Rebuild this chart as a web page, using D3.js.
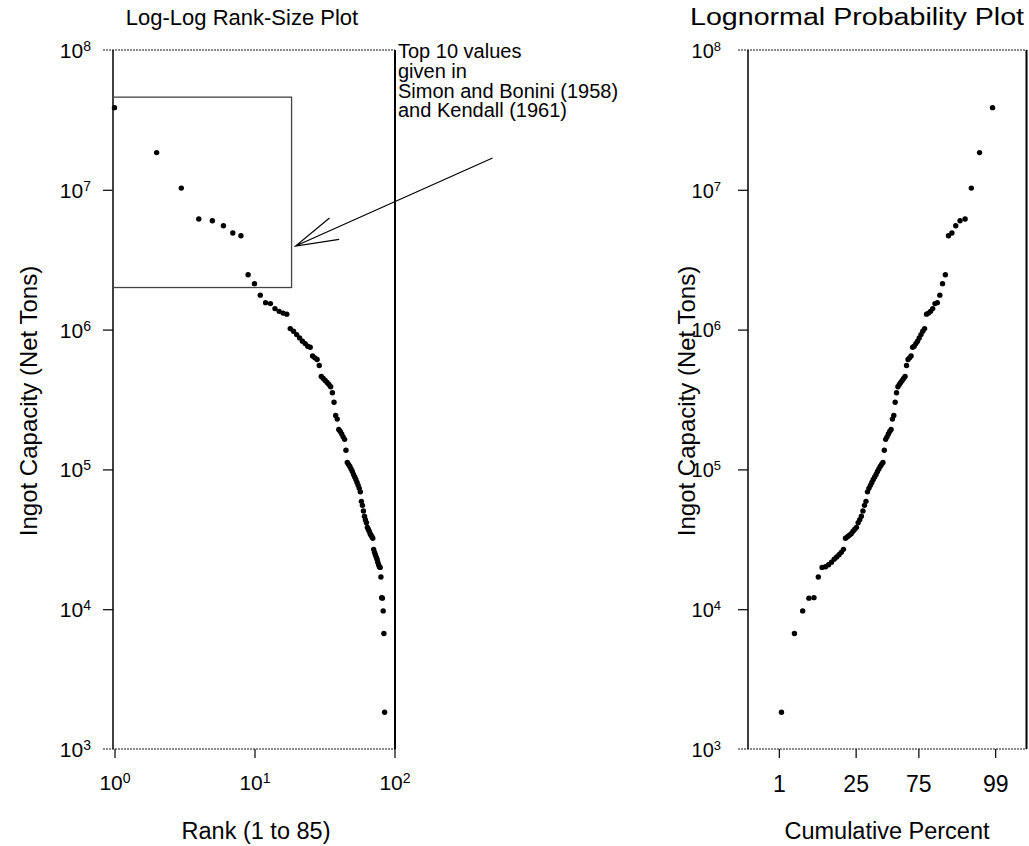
<!DOCTYPE html>
<html>
<head>
  <meta charset="UTF-8">
  <title>Ingot Capacity Plots</title>
  <style>
    body {
      margin: 0;
      background: #fff;
      font-family: "Liberation Sans", Arial, sans-serif;
    }
    text { fill: #000; }
    .frame { stroke: #000; stroke-width: 1.5px; }
    .edge { stroke: #666; stroke-width: 1.5px; stroke-dasharray: 2,1; }
    .tick line { stroke: #000; stroke-width: 1.2px; }
  </style>
</head>
<body>

<svg id="chart"></svg>

<script src="https://d3js.org/d3.v7.min.js"></script>
<script>
const width = 1029;
const height = 846;

// ingot capacity (net tons) of 85 firms, largest first
const capacity = [
  38700000, 18460000, 10280000, 6175000, 6005000, 5533000, 4907000, 4693000, 2471000, 2131000,
  1764000, 1559000, 1534000, 1413000, 1351000, 1312000, 1290000, 1017000, 972000, 921000,
  872000, 825000, 794000, 760000, 747000, 647000, 628000, 611000, 553000, 462000,
  447000, 432000, 418000, 405000, 390000, 353000, 302000, 243000, 229000, 193000,
  187000, 179000, 171000, 164000, 137000, 112000, 108600, 105000, 100800, 96700,
  92100, 88400, 84800, 80700, 76900, 73200, 69100, 59100, 55300, 50500,
  46200, 43600, 41500, 38500, 37300, 36100, 34700, 33800, 33000, 32200,
  26800, 25500, 24500, 23600, 22800, 21700, 20800, 20100, 19900, 17000,
  12100, 12000, 9720, 6700, 1830
];

const yTicks = [1e3, 1e4, 1e5, 1e6, 1e7, 1e8];
const rankTicks = [1, 10, 100];
const percentTicks = [1, 25, 75, 99];

// highlighted top 10 in data units (rank, capacity)
const boxRank = [1, 18.4];
const boxCap = [2.0e6, 4.6e7];
const noteLines = ["Top 10 values", "given in", "Simon and Bonini (1958)", "and Kendall (1961)"];

const n = capacity.length;

// inverse normal cdf (Acklam)
function qnorm(p) {
  const a = [-39.6968302866538, 220.946098424521, -275.928510446969, 138.357751867269, -30.6647980661472, 2.50662827745924];
  const b = [-54.4760987982241, 161.585836858041, -155.698979859887, 66.8013118877197, -13.2806815528857];
  const c = [-0.00778489400243029, -0.322396458041136, -2.40075827716184, -2.54973253934373, 4.37466414146497, 2.93816398269878];
  const d = [0.00778469570904146, 0.32246712907004, 2.445134137143, 3.75440866190742];
  const pl = 0.02425;
  let q, r;
  if (p < pl) {
    q = Math.sqrt(-2 * Math.log(p));
    return (((((c[0]*q+c[1])*q+c[2])*q+c[3])*q+c[4])*q+c[5]) / ((((d[0]*q+d[1])*q+d[2])*q+d[3])*q+1);
  }
  if (p > 1 - pl) {
    q = Math.sqrt(-2 * Math.log(1 - p));
    return -(((((c[0]*q+c[1])*q+c[2])*q+c[3])*q+c[4])*q+c[5]) / ((((d[0]*q+d[1])*q+d[2])*q+d[3])*q+1);
  }
  q = p - 0.5;
  r = q * q;
  return (((((a[0]*r+a[1])*r+a[2])*r+a[3])*r+a[4])*r+a[5])*q / (((((b[0]*r+b[1])*r+b[2])*r+b[3])*r+b[4])*r+1);
}

const points = capacity.map((v, i) => ({
  rank: i + 1,
  value: v,
  z: qnorm((n - i) / (n + 1))
}));

const svg = d3.select("#chart")
  .attr("width", width)
  .attr("height", height);

const plotTop = 50, plotBottom = 749;

const y = d3.scaleLog().domain([1e3, 1e8]).range([plotBottom, plotTop]);
const xL = d3.scaleLog().domain([1, 100]).range([114.5, 394.5]);
const xR = d3.scaleLinear().domain([-3, 3]).range([747.5, 1026.5]);

function pow10(sel, supSize) {
  sel.text("")
    .append("tspan").text("10");
  sel.append("tspan")
    .attr("dy", "-7")
    .style("font-size", supSize + "px")
    .text(d => Math.round(Math.log10(d)));
}

function yAxis(left, size, pad) {
  const g = svg.append("g").attr("transform", `translate(${left},0)`);
  g.call(d3.axisLeft(y).tickValues(yTicks).tickSize(10).tickPadding(pad).tickFormat(""));
  g.select(".domain").remove();
  g.selectAll(".tick text")
    .style("font-size", size + "px")
    .attr("dy", "0.36em")
    .call(pow10, Math.round(size * 0.65));
  g.selectAll(".tick").filter(d => d === 1e3 || d === 1e8).select("line").remove();
}

function frame(x0, x1) {
  svg.append("line").attr("class", "edge")
    .attr("x1", x0 - 10).attr("x2", x1).attr("y1", plotTop).attr("y2", plotTop);
  svg.append("line").attr("class", "edge")
    .attr("x1", x0 - 10).attr("x2", x1).attr("y1", plotBottom).attr("y2", plotBottom);
  svg.append("line").attr("class", "frame")
    .attr("x1", x0).attr("x2", x0).attr("y1", plotTop).attr("y2", plotBottom);
  svg.append("line").attr("class", "frame")
    .style("stroke-width", "2px")
    .attr("x1", x1).attr("x2", x1).attr("y1", plotTop).attr("y2", plotBottom);
}

// ---- left panel: rank-size
frame(113, 395);
yAxis(113, 21, 12);

const gxL = svg.append("g").attr("transform", `translate(0,${plotBottom})`);
gxL.call(d3.axisBottom(xL).tickValues(rankTicks).tickSize(9).tickPadding(17).tickFormat(""));
gxL.select(".domain").remove();
gxL.selectAll(".tick text")
  .style("font-size", "21px")
  .attr("dy", "0.71em")
  .call(pow10, 14);

// highlight box
svg.append("rect")
  .attr("x", xL(boxRank[0]) - 1.5)
  .attr("y", y(boxCap[1]))
  .attr("width", xL(boxRank[1]) - xL(boxRank[0]) + 1.5)
  .attr("height", y(boxCap[0]) - y(boxCap[1]))
  .attr("fill", "none")
  .attr("stroke", "#444")
  .attr("stroke-width", 1.3);

// arrow from the note to the box
const tip = [xL(boxRank[1]) + 4, 246];
const tail = [tip[0] + 197, tip[1] - 88];
const ang = Math.atan2(tail[1] - tip[1], tail[0] - tip[0]);
const headLen = 44, spread = 15.5 * Math.PI / 180;
svg.append("path")
  .attr("d", `M${tail[0]},${tail[1]}L${tip[0]},${tip[1]}` +
    `M${tip[0] + headLen * Math.cos(ang - spread)},${tip[1] + headLen * Math.sin(ang - spread)}L${tip[0]},${tip[1]}` +
    `L${tip[0] + headLen * Math.cos(ang + spread)},${tip[1] + headLen * Math.sin(ang + spread)}`)
  .attr("fill", "none")
  .attr("stroke", "#000")
  .attr("stroke-width", 1.2);

svg.append("g")
  .selectAll("text")
  .data(noteLines)
  .join("text")
  .attr("x", 398)
  .attr("y", (d, i) => 58 + i * 19.8)
  .style("font-size", "20px")
  .text(d => d);

svg.append("g")
  .selectAll("circle")
  .data(points)
  .join("circle")
  .attr("cx", d => xL(d.rank))
  .attr("cy", d => y(d.value))
  .attr("r", 2.7)
  .attr("fill", "#000");

svg.append("text")
  .attr("x", 242).attr("y", 25)
  .attr("text-anchor", "middle")
  .style("font-size", "22px")
  .text("Log-Log Rank-Size Plot");

svg.append("text")
  .attr("x", 256).attr("y", 839)
  .attr("text-anchor", "middle")
  .style("font-size", "23.5px")
  .text("Rank (1 to 85)");

svg.append("text")
  .attr("transform", "translate(37,401) rotate(-90)")
  .attr("text-anchor", "middle")
  .style("font-size", "24px")
  .text("Ingot Capacity (Net Tons)");

// ---- right panel: lognormal probability
frame(748, 1026.5);
yAxis(748, 20, 17);

const gxR = svg.append("g").attr("transform", `translate(0,${plotBottom})`);
gxR.call(d3.axisBottom(xR)
  .tickValues(percentTicks.map(p => qnorm(p / 100)))
  .tickSize(9).tickPadding(18)
  .tickFormat((d, i) => percentTicks[i]));
gxR.select(".domain").remove();
gxR.selectAll(".tick text").style("font-size", "23px");

svg.append("g")
  .selectAll("circle")
  .data(points)
  .join("circle")
  .attr("cx", d => xR(d.z))
  .attr("cy", d => y(d.value))
  .attr("r", 2.7)
  .attr("fill", "#000");

svg.append("text")
  .attr("x", 690).attr("y", 25)
  .attr("textLength", 334)
  .attr("lengthAdjust", "spacingAndGlyphs")
  .style("font-size", "23px")
  .text("Lognormal Probability Plot");

svg.append("text")
  .attr("x", 887).attr("y", 839)
  .attr("text-anchor", "middle")
  .style("font-size", "23.5px")
  .text("Cumulative Percent");

svg.append("text")
  .attr("transform", "translate(695,401) rotate(-90)")
  .attr("text-anchor", "middle")
  .style("font-size", "24px")
  .text("Ingot Capacity (Net Tons)");
</script>

</body>
</html>
